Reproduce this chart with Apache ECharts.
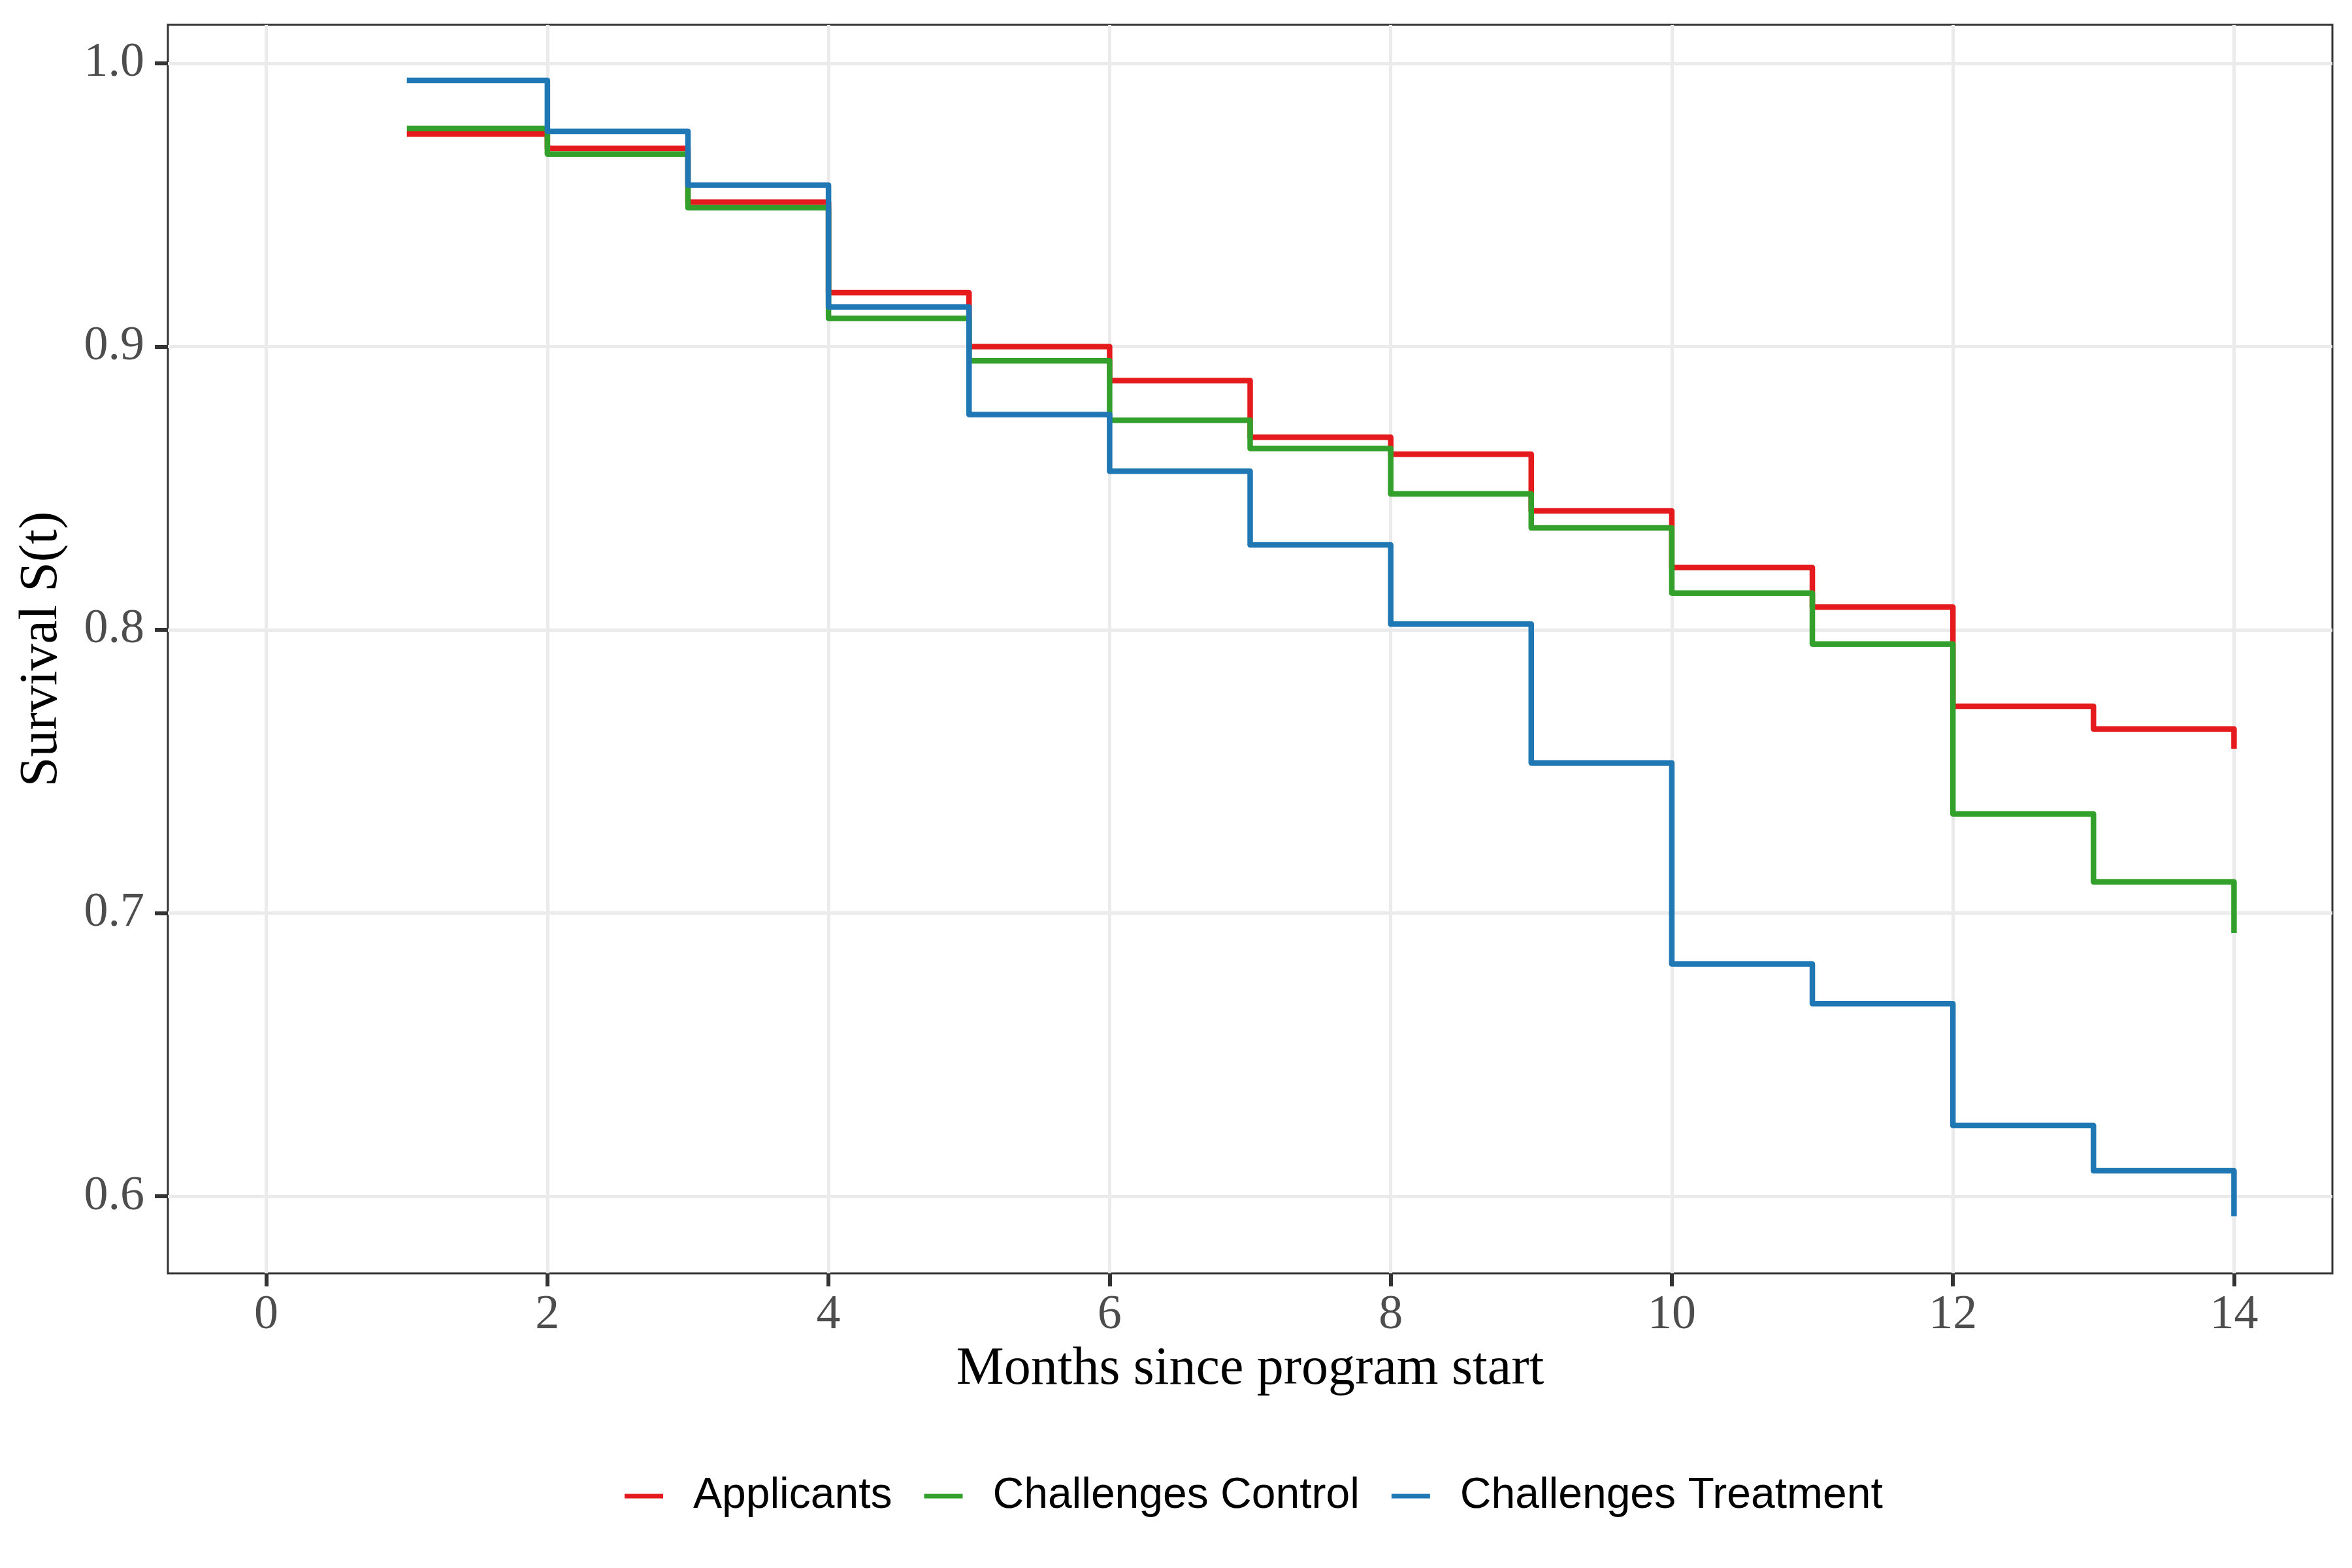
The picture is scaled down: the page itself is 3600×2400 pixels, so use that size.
<!DOCTYPE html>
<html>
<head>
<meta charset="utf-8">
<script src="https://cdn.jsdelivr.net/npm/echarts@6/dist/echarts.min.js"></script>
<style>html,body{margin:0;padding:0;background:#fff;}#chart{width:3600px;height:2400px;}</style>
</head>
<body>
<div id="chart"></div>
<script>
const months = [1, 2, 3, 4, 5, 6, 7, 8, 9, 10, 11, 12, 13, 14];
const applicants = [0.975, 0.970, 0.951, 0.919, 0.900, 0.888, 0.868, 0.862, 0.842, 0.822, 0.808, 0.773, 0.765, 0.758];
const challengesControl = [0.977, 0.968, 0.949, 0.910, 0.895, 0.874, 0.864, 0.848, 0.836, 0.813, 0.795, 0.735, 0.711, 0.693];
const challengesTreatment = [0.994, 0.976, 0.957, 0.914, 0.876, 0.856, 0.830, 0.802, 0.753, 0.682, 0.668, 0.625, 0.609, 0.593];
const seriesNames = ['Applicants', 'Challenges Control', 'Challenges Treatment'];
const xTicks = [0, 2, 4, 6, 8, 10, 12, 14];
const yTicks = [0.6, 0.7, 0.8, 0.9, 1.0];

const colors = ['#E41A1C', '#33A02C', '#1F78B4'];
const allData = [applicants, challengesControl, challengesTreatment];

const chart = echarts.init(document.getElementById('chart'), null, {renderer: 'canvas'});
const serif = '"Liberation Serif", "DejaVu Serif", serif';
const sans = '"Liberation Sans", Arial, sans-serif';

chart.setOption({
  animation: false,
  backgroundColor: '#ffffff',
  grid: {
    left: 257, right: 30, top: 38, bottom: 451,
    show: true, borderColor: '#333333', borderWidth: 3, backgroundColor: 'transparent'
  },
  legend: {
    bottom: 72, left: 951,
    itemWidth: 59, itemHeight: 7, itemGap: 49,
    icon: 'rect',
    data: seriesNames,
    textStyle: {fontFamily: sans, fontSize: 66, color: '#000000', padding: [0, 0, 0, 41]}
  },
  xAxis: {
    type: 'value', min: -0.7, max: 14.7,
    name: 'Months since program start', nameLocation: 'middle', nameGap: 103,
    nameTextStyle: {fontFamily: serif, fontSize: 82, color: '#000000'},
    axisLine: {show: false, onZero: false},
    axisTick: {show: true, length: 20, lineStyle: {color: '#333333', width: 6}, customValues: xTicks},
    axisLabel: {fontFamily: serif, fontSize: 74, color: '#4D4D4D', margin: 28, customValues: xTicks, formatter: v => String(v)},
    splitLine: {show: true, lineStyle: {color: '#EBEBEB', width: 5}}
  },
  yAxis: {
    type: 'value', min: 0.5728, max: 1.0136,
    name: 'Survival S(t)', nameLocation: 'middle', nameGap: 152, nameRotate: 90,
    nameTextStyle: {fontFamily: serif, fontSize: 82, color: '#000000'},
    axisLine: {show: false, onZero: false},
    axisTick: {show: true, length: 20, lineStyle: {color: '#333333', width: 6}, customValues: yTicks},
    axisLabel: {fontFamily: serif, fontSize: 74, color: '#4D4D4D', margin: 36, customValues: yTicks, formatter: v => v.toFixed(1)},
    splitLine: {show: true, lineStyle: {color: '#EBEBEB', width: 5}}
  },
  series: seriesNames.map((name, i) => ({
    name: name,
    type: 'line',
    step: 'end',
    showSymbol: false,
    symbol: 'none',
    color: colors[i],
    lineStyle: {color: colors[i], width: 8.5, cap: 'butt', join: 'round'},
    data: months.map((m, j) => [m, allData[i][j]]),
    z: 2 + i
  }))
});
</script>
</body>
</html>
